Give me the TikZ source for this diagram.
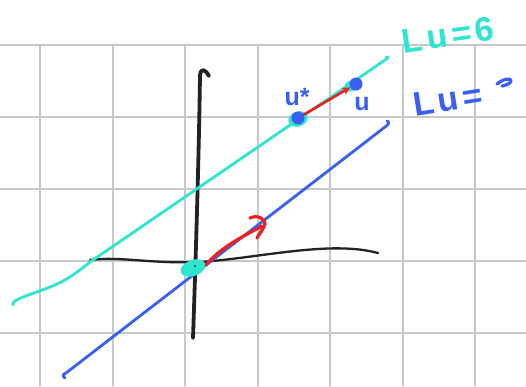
\documentclass[tikz,border=0pt]{standalone}
\usepackage{fontspec}
\setmainfont{Liberation Sans}
\usetikzlibrary{arrows.meta,shapes.geometric}
\definecolor{cyanl}{HTML}{2EE6CF}
\definecolor{bluel}{HTML}{3A5EF0}
\definecolor{redl}{HTML}{F01E1E}
\definecolor{gridc}{HTML}{C8C8C8}
\definecolor{inkc}{HTML}{222222}
\tikzset{
  gridline/.style={gridc, line width=1.3pt},
  axisline/.style={inkc, line width=3.8pt},
  cyanpen/.style={cyanl, line width=2.8pt},
  bluepen/.style={bluel, line width=2.8pt},
  redpen/.style={redl, line width=3.2pt},
  handtext/.style={inner sep=0pt, font=\bfseries\fontsize{34}{34}\selectfont\addfontfeatures{LetterSpace=12}},
  lbl/.style={inner sep=0pt, text=bluel, font=\bfseries\fontsize{25}{25}\selectfont},
  bdot/.style={circle, fill=bluel, inner sep=0pt, minimum size=13pt},
  cring/.style={ellipse, fill=cyanl, inner sep=0pt, minimum width=20pt, minimum height=15pt, rotate=20}
}
\begin{document}
\begin{tikzpicture}[x=1pt,y=-1pt, line cap=round, line join=round]
\useasboundingbox (0,0) rectangle (526,386);
\fill[white] (0,0) rectangle (526,386);
% grid
\foreach \x in {40,113,185,258,330,403,475} \draw[gridline] (\x,45) -- (\x,386);
\foreach \y in {45,117,189,261,333} \draw[gridline] (0,\y) -- (526,\y);
% axes
\coordinate (vb) at (193,338);
\coordinate (vt) at (200,75);
\draw[axisline] (vb) .. controls (196,250) and (199,150) .. (vt) .. controls (201,67) and (206,70) .. (209,76);
\coordinate (hl) at (90,260);
\coordinate (hr) at (378,253);
\draw[inkc, line width=2.3pt] (hl) .. controls (120,256) and (150,264) .. (200,262) .. controls (260,258) and (330,240) .. (hr);
% cyan line
\coordinate (cs) at (13,305);
\coordinate (cm) at (90,262);
\coordinate (ce) at (385,60);
\draw[cyanpen] (cs) .. controls (10,300) and (30,295) .. (50,287) .. controls (68,280) and (80,270) .. (cm) -- (ce) .. controls (388,58) and (389,57) .. (386,57);
% blue line
\coordinate (bs) at (66,373);
\coordinate (be) at (385,127);
\draw[bluepen] (65,378) .. controls (62,376) and (63,374) .. (bs) -- (be) .. controls (389,124) and (390,122) .. (387,121);
% origin blob
\node[ellipse, fill=cyanl, inner sep=0pt, minimum width=26pt, minimum height=16pt, rotate=20] (o) at (193,268) {};
\fill[inkc] (195,266) circle (1pt);
% lower red arrow
\coordinate (rt) at (262,226);
\draw[redpen] (206,265) .. controls (220,248) and (240,238) .. (rt);
\draw[redpen] (250,218) .. controls (258,214) and (266,220) .. (265,224) .. controls (263,230) and (259,234) .. (257,238);
% upper points
\node[cring] (usr) at (298,119) {};
\node[bdot] (us) at (298,118) {};
\node[cring, minimum width=13pt, minimum height=11pt] (ur) at (351,86) {};
\node[bdot] (u) at (356,84) {};
\draw[redpen, line width=2.6pt, -{Stealth[length=8pt,width=8pt]}] (us) -- (u);
% labels
\node[lbl] (lus) at (297,97) {u*};
\node[lbl] (lu) at (362,104) {u};
\node[handtext, text=cyanl, rotate=8] (t1) at (448,35) {Lu=6};
\node[handtext, text=bluel, rotate=9] (t2) at (448,100) {Lu=};
\draw[bluepen, line width=3.2pt] (497,84) .. controls (504,78) and (512,78) .. (511,81) .. controls (510,84) and (506,85) .. (502,86);
\end{tikzpicture}
\end{document}
